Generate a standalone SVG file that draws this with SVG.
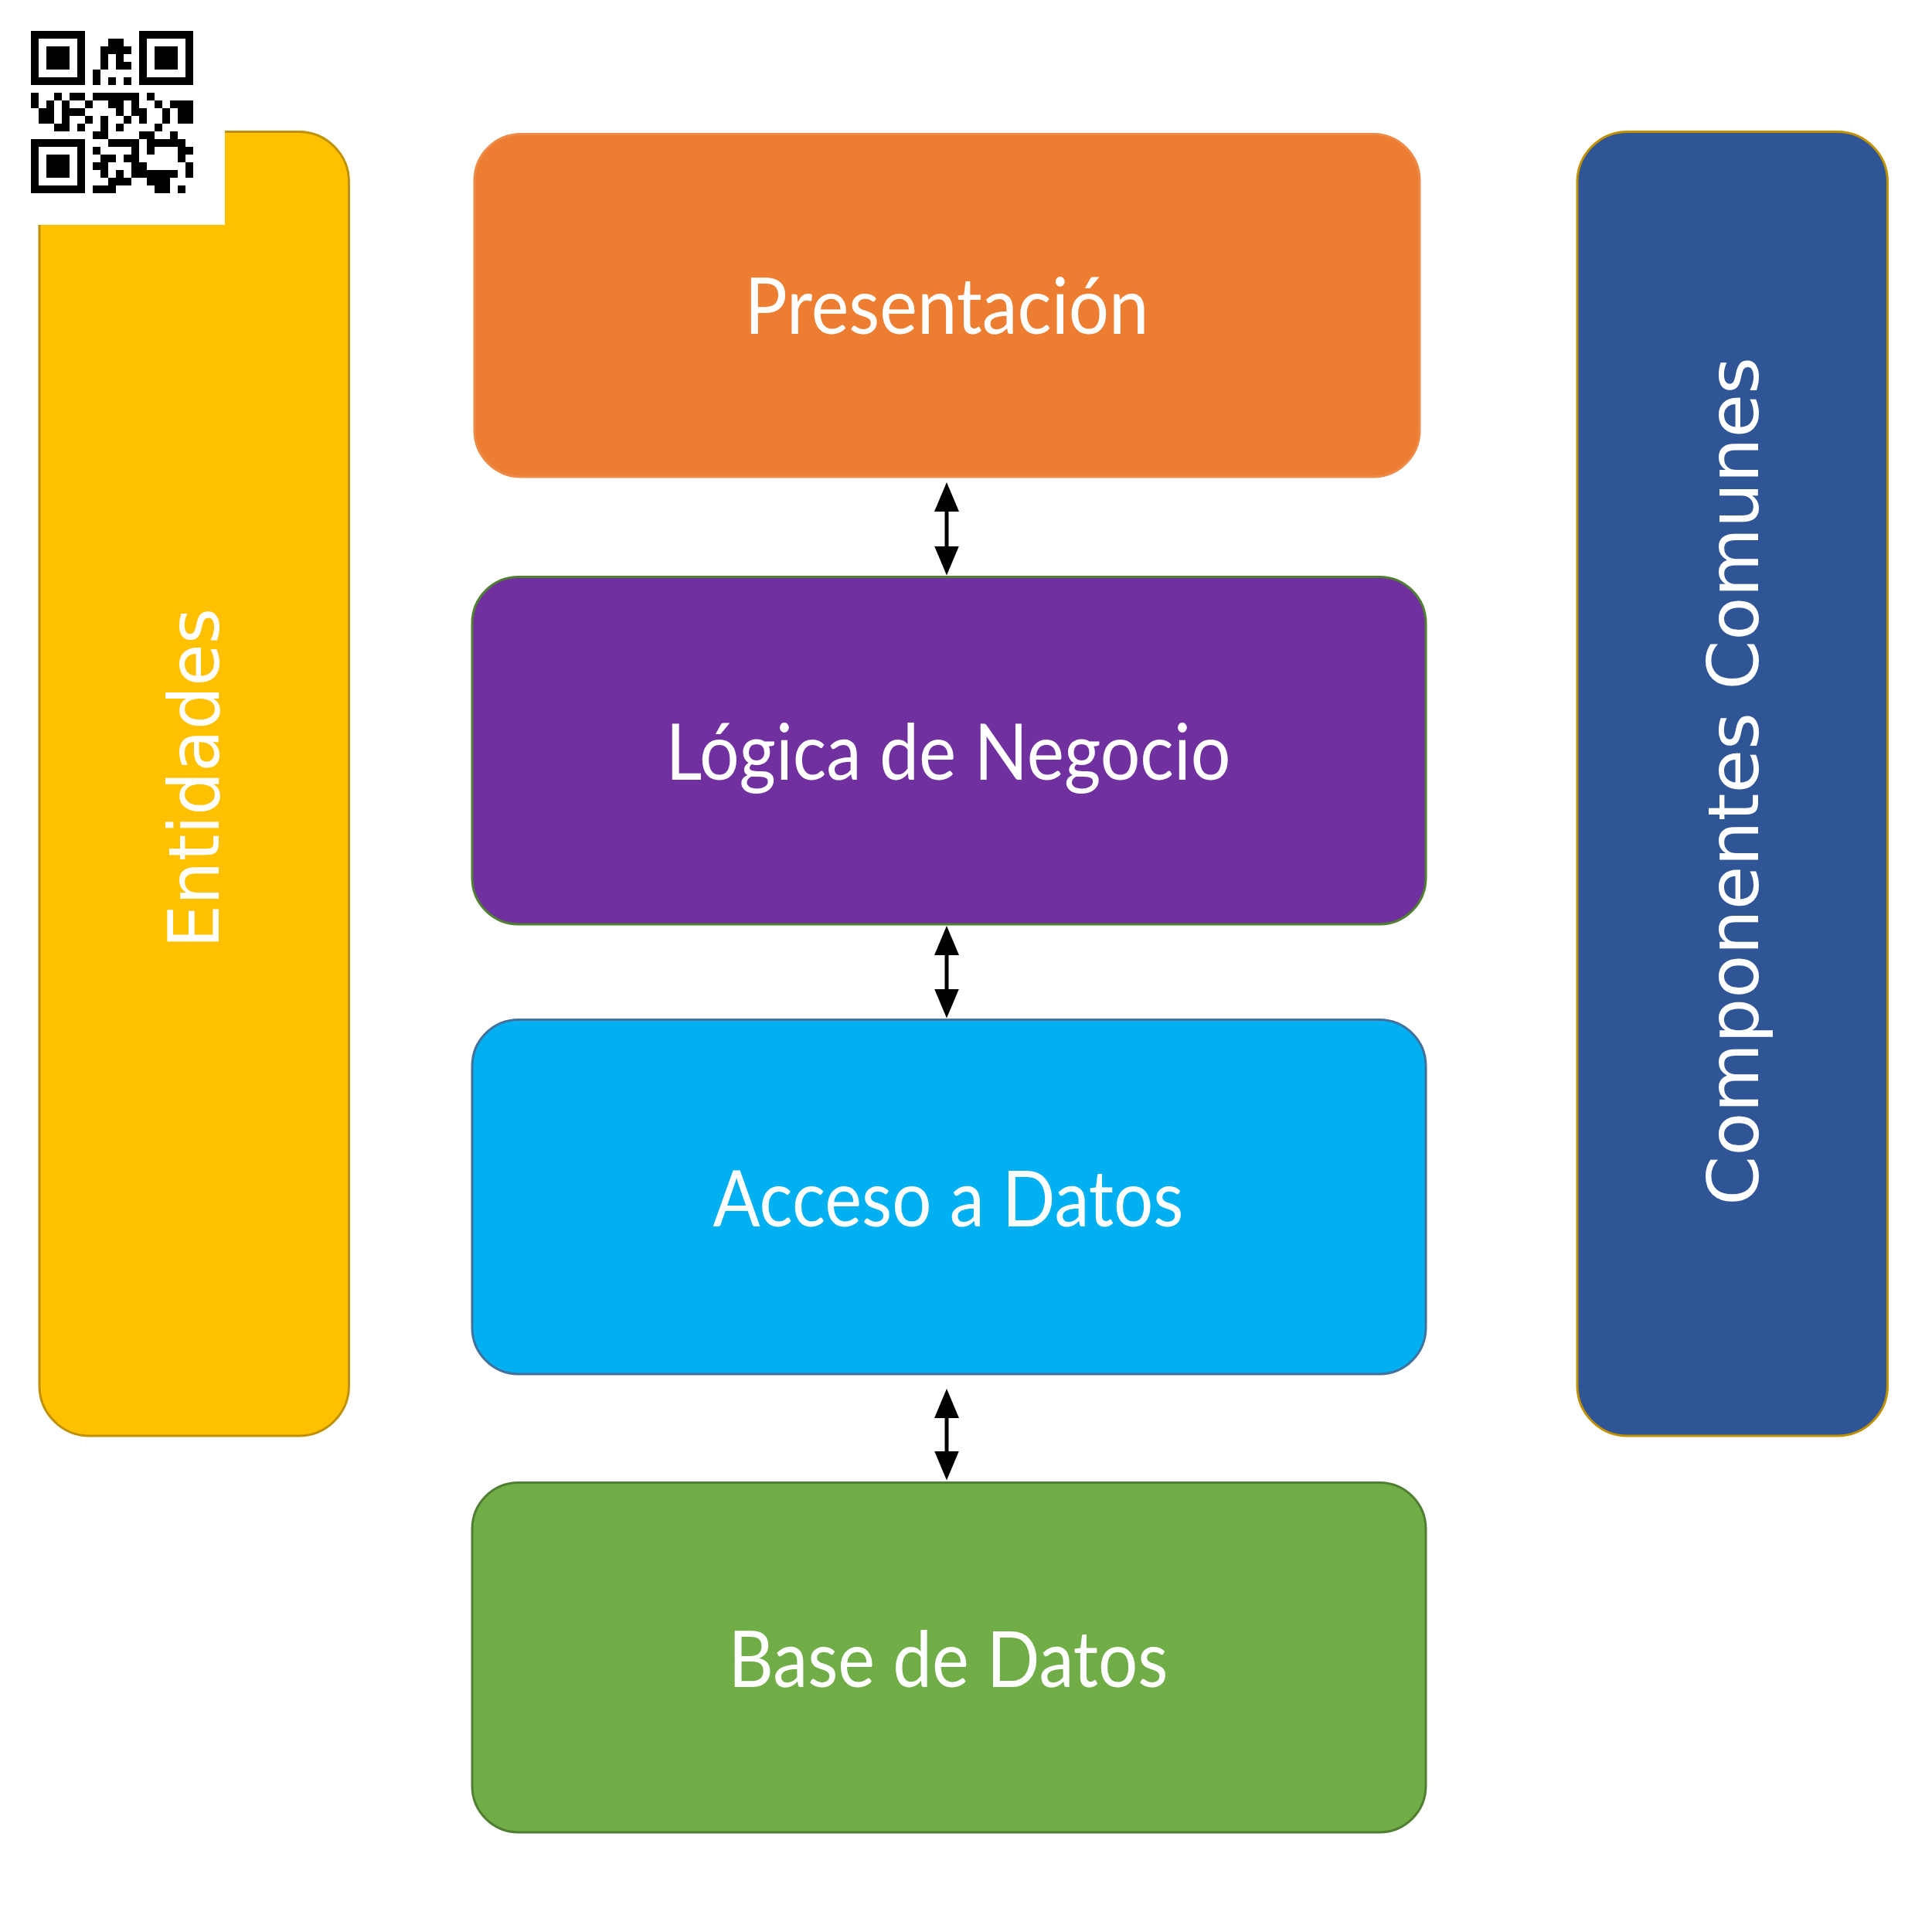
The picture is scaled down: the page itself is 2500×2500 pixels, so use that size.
<svg xmlns="http://www.w3.org/2000/svg" width="2500" height="2500" viewBox="0 0 2500 2500">
<defs>
<style>
.box{stroke-width:3}
.lbl{fill:#ffffff;font-family:Lato,"Open Sans","Liberation Sans",sans-serif;font-size:100px;text-anchor:middle}
.vlbl{fill:#ffffff;font-family:"DejaVu Sans","Liberation Sans",sans-serif;font-size:90px;text-anchor:middle}
.conn{stroke:#000000;stroke-width:5;fill:none}
</style>
<marker id="ah" viewBox="0 0 38 32" refX="28" refY="16" markerWidth="38" markerHeight="32" markerUnits="userSpaceOnUse" orient="auto-start-reverse">
<path d="M0,0 L38,16 L0,32 z" fill="#000000"/>
</marker>
</defs>
<rect width="2500" height="2500" fill="#ffffff"/>

<g id="entidades">
<rect class="box" x="51" y="170.5" width="400.5" height="1687.5" rx="65" ry="65" fill="#FFC000" stroke="#BF9000"/>
<text class="vlbl" transform="translate(283,1007) rotate(-90)" textLength="440" lengthAdjust="spacingAndGlyphs">Entidades</text>
</g>

<g id="qr">
<rect x="0" y="0" width="291" height="291" fill="#ffffff"/>
<path fill="#000000" fill-rule="evenodd" d="M40,40h70v70h-70z M50,50h50v50h-50z M60,60h30v30h-30z M180,40h70v70h-70z M190,50h50v50h-50z M200,60h30v30h-30z M40,180h70v70h-70z M50,190h50v50h-50z M60,200h30v30h-30z"/>
<path fill="#000000" d="M140,50h20v10h-20z M130,60h40v10h-40z M130,70h10v10h-10z M150,70h10v10h-10z M130,80h10v10h-10z M150,80h20v10h-20z M120,90h10v10h-10z M120,100h10v10h-10z M140,100h10v10h-10z M160,100h10v10h-10z
M40,120h10v10h-10z M70,120h10v10h-10z M90,120h20v10h-20z M120,120h60v10h-60z M190,120h10v10h-10z
M40,130h10v10h-10z M60,130h10v10h-10z M80,130h10v10h-10z M110,130h10v10h-10z M140,130h20v10h-20z M170,130h10v10h-10z M200,130h10v10h-10z M220,130h30v10h-30z
M50,140h20v10h-20z M80,140h30v10h-30z M150,140h10v10h-10z M170,140h20v10h-20z M210,140h10v10h-10z M230,140h20v10h-20z
M50,150h20v10h-20z M80,150h10v10h-10z M110,150h10v10h-10z M130,150h10v10h-10z M160,150h10v10h-10z M180,150h10v10h-10z M210,150h10v10h-10z M230,150h20v10h-20z
M70,160h20v10h-20z M100,160h10v10h-10z M130,160h10v10h-10z M150,160h10v10h-10z M200,160h10v10h-10z
M120,170h20v10h-20z M180,170h20v10h-20z M220,170h10v10h-10z
M140,180h40v10h-40z M190,180h50v10h-50z
M120,190h10v10h-10z M170,190h10v10h-10z M190,190h10v10h-10z M230,190h20v10h-20z
M130,200h20v10h-20z M160,200h20v10h-20z M230,200h10v10h-10z
M120,210h20v10h-20z M170,210h20v10h-20z M240,210h10v10h-10z
M130,220h10v10h-10z M150,220h10v10h-10z M170,220h60v10h-60z M240,220h10v10h-10z
M140,230h30v10h-30z M190,230h30v10h-30z
M120,240h30v10h-30z M200,240h20v10h-20z M230,240h10v10h-10z"/>
</g>

<g id="presentacion">
<rect class="box" x="614" y="173.5" width="1223" height="443.5" rx="60" ry="60" fill="#ED7D31" stroke="#EE8A48"/>
<text class="lbl" x="1225" y="431.5" textLength="523" lengthAdjust="spacingAndGlyphs">Presentación</text>
</g>

<g id="logica">
<rect class="box" x="611" y="746.5" width="1234" height="449.5" rx="60" ry="60" fill="#7030A0" stroke="#507E32"/>
<text class="lbl" x="1227" y="1008.5" textLength="731" lengthAdjust="spacingAndGlyphs">Lógica de Negocio</text>
</g>

<g id="acceso">
<rect class="box" x="611" y="1319.5" width="1234" height="458.5" rx="60" ry="60" fill="#00B0F0" stroke="#41719C"/>
<text class="lbl" x="1227" y="1586.5" textLength="609" lengthAdjust="spacingAndGlyphs">Acceso a Datos</text>
</g>

<g id="base-datos">
<rect class="box" x="611" y="1918.5" width="1234" height="452.5" rx="60" ry="60" fill="#70AD47" stroke="#507E32"/>
<text class="lbl" x="1227" y="2182.5" textLength="569" lengthAdjust="spacingAndGlyphs">Base de Datos</text>
</g>

<g id="componentes-comunes">
<rect class="box" x="2041" y="170.5" width="401.5" height="1687.5" rx="65" ry="65" fill="#2F5597" stroke="#BF9000"/>
<text class="vlbl" transform="translate(2275,1011) rotate(-90)" textLength="1098" lengthAdjust="spacingAndGlyphs">Componentes Comunes</text>
</g>

<g id="connectors">
<line class="conn" x1="1225" y1="634" x2="1225" y2="734.5" marker-start="url(#ah)" marker-end="url(#ah)"/>
<line class="conn" x1="1225" y1="1208" x2="1225" y2="1307.5" marker-start="url(#ah)" marker-end="url(#ah)"/>
<line class="conn" x1="1225" y1="1807" x2="1225" y2="1905.5" marker-start="url(#ah)" marker-end="url(#ah)"/>
</g>
</svg>
